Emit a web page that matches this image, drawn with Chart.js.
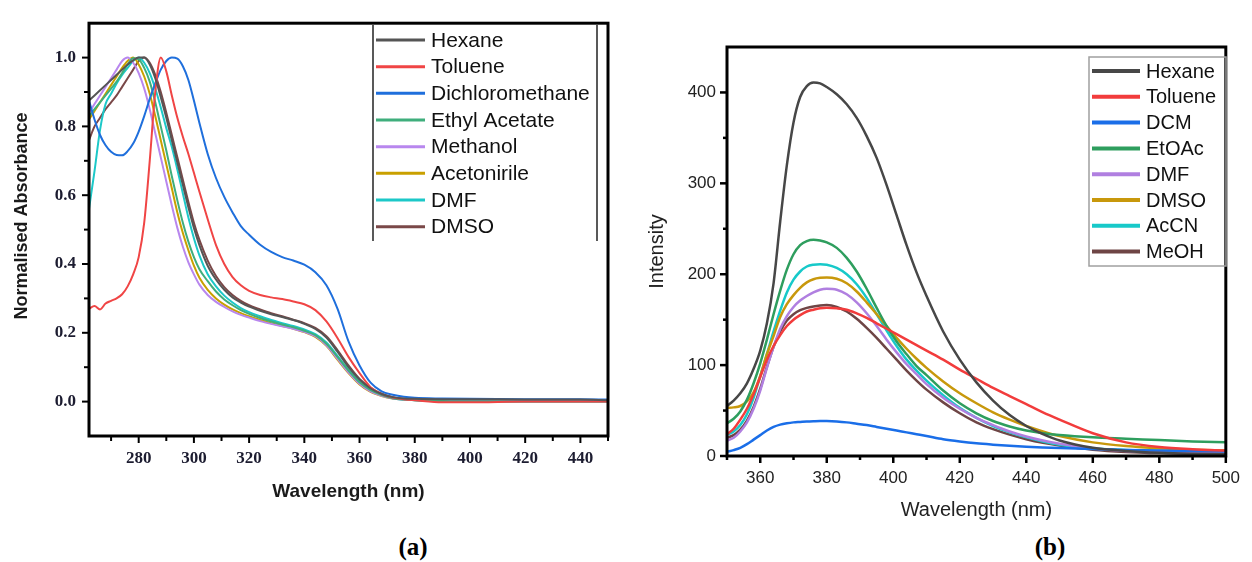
<!DOCTYPE html>
<html><head><meta charset="utf-8">
<script src="https://cdn.jsdelivr.net/npm/chart.js@4.4.1/dist/chart.umd.min.js"></script>
<style>
html,body{margin:0;padding:0;background:#fff;width:1252px;height:562px;overflow:hidden}
#wa{position:absolute;left:0;top:0;width:625px;height:520px}
#wb{position:absolute;left:630px;top:0;width:622px;height:530px}
.lab{position:absolute;font-family:"Liberation Serif","Times New Roman",serif;font-weight:bold;font-size:25px;color:#000;transform:translateX(-50%);line-height:28px}
</style></head><body>
<div id="wa"><canvas id="ca" width="625" height="520"></canvas></div>
<div id="wb"><canvas id="cb" width="622" height="530"></canvas></div>
<div class="lab" style="left:413px;top:533px">(a)</div>
<div class="lab" style="left:1050px;top:533px">(b)</div>
<script>
// ---------------- Panel (a): normalised absorbance ----------------
const WAVE_A = [262,264,266,268,270,272,274,276,278,280,282,284,286,288,290,292,294,296,298,300,302,
  305,308,311,314,317,320,324,328,332,336,340,344,348,352,356,360,364,368,372,376,380,390,400,420,440,450];
const HEXANE_A = [.875,.89,.905,.92,.935,.95,.965,.98,.992,1.0,1.0,.98,.94,.885,.825,.76,.695,.63,.565,.505,.455,
  .395,.355,.325,.303,.288,.276,.264,.254,.246,.237,.226,.211,.186,.145,.10,.064,.038,.022,.013,.009,.008,.007,.007,.006,.006,.004];
const TOLUENE_A = [.27,.278,.268,.285,.293,.30,.312,.335,.37,.42,.52,.70,.90,1.0,.96,.89,.825,.77,.72,.665,.61,
  .53,.455,.40,.362,.338,.322,.31,.303,.298,.291,.283,.266,.233,.185,.13,.083,.042,.022,.012,.007,.004,-.002,-.002,0,0,0];
const DCM_A = [.875,.82,.775,.745,.726,.717,.716,.728,.75,.785,.83,.88,.925,.965,.99,1.0,.997,.975,.935,.875,.81,
  .72,.65,.595,.55,.51,.485,.456,.435,.42,.41,.398,.376,.338,.27,.175,.105,.055,.03,.02,.014,.011,.009,.008,.007,.007,.006];
const ETAC_A = [.83,.85,.87,.89,.91,.93,.955,.98,.998,.995,.97,.93,.87,.80,.73,.655,.585,.52,.465,.42,.385,
  .35,.32,.297,.28,.266,.255,.243,.233,.224,.216,.206,.193,.168,.13,.09,.056,.033,.019,.01,.006,.004,.002,.001,.001,.001,.001];
const METHANOL_A = [.84,.865,.89,.915,.94,.965,.99,1.0,.985,.955,.91,.85,.78,.71,.64,.57,.505,.45,.405,.37,.34,
  .31,.29,.275,.262,.252,.244,.234,.226,.219,.212,.203,.19,.164,.125,.085,.052,.03,.017,.009,.006,.005,.004,.004,.004,.004,.004];
const ACN_A = [.82,.845,.87,.895,.92,.945,.97,.99,1.0,.98,.945,.895,.83,.76,.69,.62,.55,.49,.44,.395,.36,
  .325,.30,.282,.268,.257,.248,.237,.228,.22,.212,.202,.188,.162,.122,.083,.05,.028,.016,.009,.007,.006,.005,.005,.004,.004,.004];
const DMF_A = [.56,.67,.79,.865,.895,.925,.95,.97,.99,1.0,.985,.955,.91,.855,.795,.74,.675,.605,.535,.475,.425,
  .37,.335,.308,.288,.272,.26,.248,.237,.228,.22,.21,.196,.172,.133,.092,.058,.034,.019,.01,.006,.004,.002,.001,.001,.001,.001];
const DMSO_A = [.76,.80,.825,.85,.87,.89,.915,.94,.965,.99,1.0,.985,.95,.90,.84,.775,.71,.645,.58,.52,.47,
  .41,.365,.333,.31,.293,.28,.268,.257,.248,.238,.228,.214,.19,.15,.105,.066,.04,.023,.013,.008,.006,.004,.002,0,0,0];
const LABELS_A = ['Hexane','Toluene','Dichloromethane','Ethyl Acetate','Methanol','Acetonirile','DMF','DMSO'];
const X_TICKS_A = [280,300,320,340,360,380,400,420,440];
const X_MINOR_A = [270,290,310,330,350,370,390,410,430,450];
const Y_TICKS_A = [0.0,0.2,0.4,0.6,0.8,1.0];
const Y_MINOR_A = [0.1,0.3,0.5,0.7,0.9];

// ---------------- Panel (b): emission intensity ----------------
const WAVE_B = [350,352,354,356,358,360,362,364,366,368,370,372,374,376,378,380,
  383,386,389,392,395,398,401,404,407,410,415,420,425,430,435,440,445,450,460,470,480,490,500];
const HEXANE_B = [55,61,69,80,96,116,146,190,258,320,367,395,407,411,410,406,
  398,387,372,352,328,298,265,232,202,176,137,106,81,61,45,33,24,17,9,5.5,3.5,2.5,2];
const TOLUENE_B = [24,30,40,52,68,87,106,121,133,143,150,155,159,161,162.5,163,
  162.5,161,157,152,146,140,134,128,122,116,106,95,85,75,66,57,48,40,25,15,10,7.5,6];
const DCM_B = [4.5,6.5,9,13,18,23,28,32,34.5,36,37,37.5,38,38.3,38.5,38.5,
  38,37,35.5,34,32,30,28,26,24,22,18.5,16,14,12.5,11.2,10.2,9.4,8.7,7.6,6.7,6,5.4,5];
const ETOAC_B = [36,41,49,62,80,102,128,156,182,205,222,232,236.5,238,237,235,
  229,218,203,184,163,143,126,112,99,89,72,58,47,38.5,32.5,28,25,23,20.5,19,17.5,16,15];
const DMF_B = [17,20,27,37,52,72,97,120,140,154,164,171,176,180,183,184,
  183,178,169,157,143,128,114,101,90,79,64,52,42,34,27,21.5,17,13.5,8.5,5.5,4,3.2,2.8];
const DMSO_B = [53,53.5,55,60,70,88,112,132,153,167,177,185,191,194.5,196,196.5,
  195,190,181,169,156,143,130,118,107,97,82,69,58,48,40,33,27,22,15,11,8.5,7,6];
const ACCN_B = [23,27,34,46,64,88,112,137,160,180,194,203,208.5,210.5,211,210.5,
  207,200,189,174,156,138,121,106,94,83,67,53,42,33,26,20.5,16,12.5,8.5,6.5,5.5,5,4.5];
const MEOH_B = [20,23,29,39,54,74,98,120,137,149,156,160.5,163,164.5,165.5,166,
  164,159,151,141,130,118,106,94,83,73,59,47,37,29.5,23.5,18.5,14.5,11.5,7,4.5,3.2,2.5,2];
const LABELS_B = ['Hexane','Toluene','DCM','EtOAc','DMF','DMSO','AcCN','MeOH'];
const X_TICKS_B = [360,380,400,420,440,460,480,500];
const X_MINOR_B = [350,370,390,410,430,450,470,490];
const Y_TICKS_B = [0,100,200,300,400];
const Y_MINOR_B = [50,150,250,350];

const pts = (xs, ys) => xs.map((x, i) => ({x: x, y: ys[i]}));

const decoPlugin = {
  id: 'deco',
  afterDatasetsDraw(chart, args, o) {
    const ctx = chart.ctx, a = chart.chartArea, sx = chart.scales.x, sy = chart.scales.y;
    ctx.save();
    ctx.strokeStyle = '#000';
    const seg = (x1, y1, x2, y2) => { ctx.beginPath(); ctx.moveTo(x1, y1); ctx.lineTo(x2, y2); ctx.stroke(); };
    ctx.lineWidth = o.tickWidth;
    o.xMajor.forEach(v => { const p = sx.getPixelForValue(v); seg(p, a.bottom, p, a.bottom + o.major); });
    o.xMinor.forEach(v => { const p = sx.getPixelForValue(v); seg(p, a.bottom, p, a.bottom + o.minor); });
    o.yMajor.forEach(v => { const p = sy.getPixelForValue(v); seg(a.left, p, a.left - o.major, p); });
    o.yMinor.forEach(v => { const p = sy.getPixelForValue(v); seg(a.left, p, a.left - o.minor, p); });
    ctx.lineWidth = o.frameWidth;
    ctx.strokeRect(a.left, a.top, a.right - a.left, a.bottom - a.top);
    // rotated axis title drawn at its own place
    if (o.ytitle) {
      const t = o.ytitle;
      ctx.save();
      ctx.translate(t.x, t.y); ctx.rotate(-Math.PI / 2);
      ctx.font = t.font; ctx.fillStyle = t.color; ctx.textAlign = 'center'; ctx.textBaseline = 'middle';
      ctx.fillText(t.text, 0, 0);
      ctx.restore();
    }
    // legend
    const L = o.legend;
    ctx.lineWidth = 1.5; ctx.strokeStyle = L.boxColor;
    if (L.box) {
      ctx.strokeRect(L.x0, L.top, L.x1 - L.x0, L.bottom - L.top);
    } else {
      seg(L.x0, L.top, L.x0, L.bottom); seg(L.x1, L.top, L.x1, L.bottom);
    }
    ctx.font = L.font; ctx.textBaseline = 'middle'; ctx.textAlign = 'left'; ctx.fillStyle = L.textColor;
    chart.data.datasets.forEach((ds, i) => {
      const y = L.row0 + i * L.dy;
      ctx.strokeStyle = ds.borderColor; ctx.lineWidth = L.lineWidth; ctx.lineCap = 'butt';
      seg(L.lx0, y, L.lx1, y);
      ctx.fillText(ds.label, L.tx, y + 1);
    });
    ctx.restore();
  }
};

function makeChart(id, cfg) {
  const serie = cfg.series.map((s, i) => ({
    label: cfg.labels[i], data: pts(cfg.wave, s.v), borderColor: s.c, backgroundColor: s.c,
    borderWidth: cfg.lw, pointRadius: 0, cubicInterpolationMode: 'monotone', fill: false
  }));
  return new Chart(document.getElementById(id), {
    type: 'line',
    data: {datasets: serie},
    plugins: [decoPlugin],
    options: {
      responsive: false, animation: false, devicePixelRatio: 1,
      layout: {padding: cfg.pad},
      plugins: {legend: {display: false}, tooltip: {enabled: false}, deco: cfg.deco},
      scales: {
        x: {
          type: 'linear', min: cfg.xmin, max: cfg.xmax,
          afterFit: s => { s.height = cfg.xh; },
          afterBuildTicks: s => { s.ticks = cfg.xticks.map(v => ({value: v})); },
          grid: {display: false, drawTicks: false}, border: {display: false},
          ticks: {padding: cfg.xtp, font: cfg.tickFont, color: cfg.tickColor, callback: v => String(v), maxRotation: 0, autoSkip: false},
          title: {display: true, text: 'Wavelength (nm)', font: cfg.xtitleFont, color: cfg.titleColor, padding: {top: 0, bottom: cfg.xtitlePad}}
        },
        y: {
          type: 'linear', min: cfg.ymin, max: cfg.ymax,
          afterFit: s => { s.width = cfg.yw; },
          afterBuildTicks: s => { s.ticks = cfg.yticks.map(v => ({value: v})); },
          grid: {display: false, drawTicks: false}, border: {display: false},
          ticks: {padding: cfg.ytp, font: cfg.tickFont, color: cfg.tickColor, callback: cfg.yfmt, autoSkip: false},
          title: {display: !!cfg.ytitle, text: cfg.ytitle || '', font: cfg.xtitleFont, color: cfg.titleColor, padding: {top: cfg.ytitlePad, bottom: 0}}
        }
      }
    }
  });
}

makeChart('ca', {
  wave: WAVE_A, labels: LABELS_A, lw: 2,
  series: [
    {v: HEXANE_A, c: '#555555'}, {v: TOLUENE_A, c: '#f04545'}, {v: DCM_A, c: '#1f6fdc'},
    {v: ETAC_A, c: '#3fae7c'}, {v: METHANOL_A, c: '#b887ee'}, {v: ACN_A, c: '#c9a000'},
    {v: DMF_A, c: '#1cc8c8'}, {v: DMSO_A, c: '#7a4848'}
  ],
  pad: {top: 18, right: 17, left: 0, bottom: 0},
  xmin: 262, xmax: 450, ymin: -0.1, ymax: 1.1,
  xh: 84, yw: 89, xtp: 12, ytp: 13, xtitlePad: 17, ytitlePad: 11,
  xticks: X_TICKS_A, yticks: Y_TICKS_A, yfmt: v => v.toFixed(1),
  tickFont: {family: '"Liberation Serif", serif', size: 17, weight: 'bold'}, tickColor: '#1c1c30',
  xtitleFont: {family: '"Liberation Sans", Arial, sans-serif', size: 19, weight: 'bold'}, titleColor: '#1a1a1a',
  ytitle: null,
  deco: {
    xMajor: X_TICKS_A, xMinor: X_MINOR_A, yMajor: Y_TICKS_A, yMinor: Y_MINOR_A,
    major: 7, minor: 5, tickWidth: 2, frameWidth: 3,
    ytitle: {text: 'Normalised Absorbance', x: 22, y: 216, font: 'bold 18px "Liberation Sans", Arial, sans-serif', color: '#1a1a1a'},
    legend: {box: false, x0: 373, x1: 597, top: 25, bottom: 241, lx0: 376, lx1: 425, tx: 431,
      row0: 40, dy: 26.67, lineWidth: 3, font: '21px "Liberation Sans", Arial, sans-serif', textColor: '#111', boxColor: '#222'}
  }
});

makeChart('cb', {
  wave: WAVE_B, labels: LABELS_B, lw: 2.5,
  series: [
    {v: HEXANE_B, c: '#474747'}, {v: TOLUENE_B, c: '#f23c3c'}, {v: DCM_B, c: '#1a6ee8'},
    {v: ETOAC_B, c: '#2e9e5e'}, {v: DMF_B, c: '#b07fe0'}, {v: DMSO_B, c: '#c8980c'},
    {v: ACCN_B, c: '#17c9c9'}, {v: MEOH_B, c: '#6e4545'}
  ],
  pad: {top: 47, right: 14, left: 0, bottom: 0},
  xmin: 350, xmax: 500, ymin: 0, ymax: 450,
  xh: 74, yw: 97, xtp: 12, ytp: 11, xtitlePad: 8, ytitlePad: 15,
  xticks: X_TICKS_B, yticks: Y_TICKS_B, yfmt: v => String(v),
  tickFont: {family: '"Liberation Sans", Arial, sans-serif', size: 17}, tickColor: '#222',
  xtitleFont: {family: '"Liberation Sans", Arial, sans-serif', size: 20}, titleColor: '#222',
  ytitle: 'Intensity',
  deco: {
    xMajor: X_TICKS_B, xMinor: X_MINOR_B, yMajor: Y_TICKS_B, yMinor: Y_MINOR_B,
    major: 7, minor: 4, tickWidth: 2.5, frameWidth: 3,
    legend: {box: true, x0: 459, x1: 596, top: 57, bottom: 266, lx0: 462, lx1: 510, tx: 516,
      row0: 71, dy: 25.8, lineWidth: 4, font: '20px "Liberation Sans", Arial, sans-serif', textColor: '#111', boxColor: '#a0a0a0'}
  }
});
</script>
</body></html>
